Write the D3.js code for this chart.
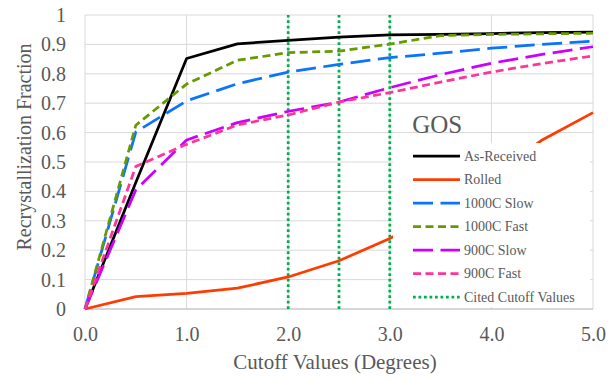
<!DOCTYPE html>
<html>
<head>
<meta charset="utf-8">
<script src="https://cdn.jsdelivr.net/npm/d3@7"></script>
<style>
  body { margin: 0; background: #fff; }
  text { font-family: "Liberation Serif", "DejaVu Serif", serif; }
</style>
</head>
<body>
<svg id="chart" width="615" height="382"></svg>
<script>
// Cutoff angles (degrees) shared by every series
const cutoffs = [0, 0.5, 1.0, 1.5, 2.0, 2.5, 3.0, 3.5, 4.0, 4.5, 5.0];

const asReceived = [0, 0.43, 0.852, 0.902, 0.914, 0.925, 0.932, 0.934, 0.937, 0.940, 0.942];
const rolled = [0, 0.042, 0.053, 0.071, 0.109, 0.164, 0.240, 0.33, 0.45, 0.575, 0.668];
const slow1000 = [0, 0.602, 0.708, 0.766, 0.806, 0.832, 0.855, 0.870, 0.887, 0.900, 0.911];
const fast1000 = [0, 0.625, 0.765, 0.846, 0.872, 0.877, 0.901, 0.930, 0.934, 0.936, 0.938];
const slow900 = [0, 0.405, 0.575, 0.634, 0.672, 0.704, 0.753, 0.797, 0.836, 0.866, 0.892];
const fast900 = [0, 0.485, 0.560, 0.626, 0.660, 0.704, 0.736, 0.772, 0.806, 0.835, 0.861];

const citedCutoffs = [2.0, 2.5, 3.0];

const xTicks = [0, 1, 2, 3, 4, 5];
const yTicks = [0, 0.1, 0.2, 0.3, 0.4, 0.5, 0.6, 0.7, 0.8, 0.9, 1];

const FONT = '"Liberation Serif", "DejaVu Serif", serif';

const series = [
  { name: 'As-Received', values: asReceived, color: '#000000', dash: null },
  { name: 'Rolled', values: rolled, color: '#ff3c00', dash: null },
  { name: '1000C Slow', values: slow1000, color: '#0a74ff', dash: '20,7.5' },
  { name: '1000C Fast', values: fast1000, color: '#669a00', dash: '8,4.5' },
  { name: '900C Slow', values: slow900, color: '#cc00ff', dash: '20,7.5' },
  { name: '900C Fast', values: fast900, color: '#ff3399', dash: '8,4.5' }
];

const svg = d3.select('#chart');
const margin = { left: 85, right: 22, top: 15, bottom: 73 };
const width = 615 - margin.left - margin.right;
const height = 382 - margin.top - margin.bottom;

const x = d3.scaleLinear().domain([0, 5]).range([0, width]);
const y = d3.scaleLinear().domain([0, 1]).range([height, 0]);

const g = svg.append('g')
  .attr('transform', `translate(${margin.left},${margin.top})`);

// Gridlines
g.append('g')
  .selectAll('line')
  .data(yTicks)
  .join('line')
    .attr('x1', 0)
    .attr('x2', width)
    .attr('y1', d => y(d))
    .attr('y2', d => y(d))
    .attr('stroke', '#d9d9d9')
    .attr('stroke-width', 1);

g.append('g')
  .selectAll('line')
  .data(xTicks)
  .join('line')
    .attr('x1', d => x(d))
    .attr('x2', d => x(d))
    .attr('y1', 0)
    .attr('y2', height)
    .attr('stroke', '#d9d9d9')
    .attr('stroke-width', 1);

// Axes (labels only)
const xAxis = g.append('g')
  .attr('transform', `translate(0,${height})`)
  .call(d3.axisBottom(x).tickValues(xTicks).tickFormat(d3.format('.1f')).tickSize(0).tickPadding(18));

const yAxis = g.append('g')
  .call(d3.axisLeft(y).tickValues(yTicks).tickFormat(d => d3.format('~g')(d)).tickSize(0).tickPadding(19));

[xAxis, yAxis].forEach(axis => {
  axis.attr('font-family', FONT).attr('font-size', 20);
  axis.select('.domain').remove();
  axis.selectAll('text')
    .attr('fill', '#595959');
});

g.append('line')
  .attr('x1', 0).attr('x2', width)
  .attr('y1', height).attr('y2', height)
  .attr('stroke', '#bfbfbf')
  .attr('stroke-width', 1);

// Cited cutoff values
g.append('g')
  .selectAll('line')
  .data(citedCutoffs)
  .join('line')
    .attr('x1', d => x(d))
    .attr('x2', d => x(d))
    .attr('y1', y(0))
    .attr('y2', y(1))
    .attr('stroke', '#00b050')
    .attr('stroke-width', 2.75)
    .attr('stroke-dasharray', '2.75,2.75');

// Series lines
const line = d3.line()
  .x((d, i) => x(cutoffs[i]))
  .y(d => y(d));

g.append('g')
  .selectAll('path')
  .data(series)
  .join('path')
    .attr('d', d => line(d.values))
    .attr('fill', 'none')
    .attr('stroke', d => d.color)
    .attr('stroke-width', 2.75)
    .attr('stroke-linejoin', 'round')
    .attr('stroke-dasharray', d => d.dash);

// GOS label
g.append('text')
  .attr('x', x(3.22))
  .attr('y', y(0.6))
  .attr('fill', '#595959')
  .attr('font-family', FONT)
  .attr('font-size', 25)
  .text('GOS');

// Legend
const legendItems = series.concat([
  { name: 'Cited Cutoff Values', color: '#00b050', dash: '2.75,2.75' }
]);

const legend = svg.append('g')
  .attr('transform', 'translate(393,143)');

legend.append('rect')
  .attr('width', 197)
  .attr('height', 164)
  .attr('fill', '#ffffff');

const rows = legend.selectAll('g.row')
  .data(legendItems)
  .join('g')
    .attr('class', 'row')
    .attr('transform', (d, i) => `translate(0,${13 + i * 23.5})`);

rows.append('line')
  .attr('x1', 20)
  .attr('x2', 67)
  .attr('stroke', d => d.color)
  .attr('stroke-width', 2.75)
  .attr('stroke-dasharray', d => d.dash);

rows.append('text')
  .attr('x', 71)
  .attr('dy', '0.35em')
  .attr('fill', '#595959')
  .attr('font-family', FONT)
  .attr('font-size', 14)
  .text(d => d.name);

// Axis titles
svg.append('text')
  .attr('x', margin.left + width / 2 - 4)
  .attr('y', 369)
  .attr('text-anchor', 'middle')
  .attr('fill', '#595959')
  .attr('font-family', FONT)
  .attr('font-size', 21)
  .text('Cutoff Values (Degrees)');

svg.append('text')
  .attr('transform', 'translate(31,147) rotate(-90)')
  .attr('text-anchor', 'middle')
  .attr('fill', '#595959')
  .attr('font-family', FONT)
  .attr('font-size', 20)
  .text('Recrystallization Fraction');
</script>
</body>
</html>
